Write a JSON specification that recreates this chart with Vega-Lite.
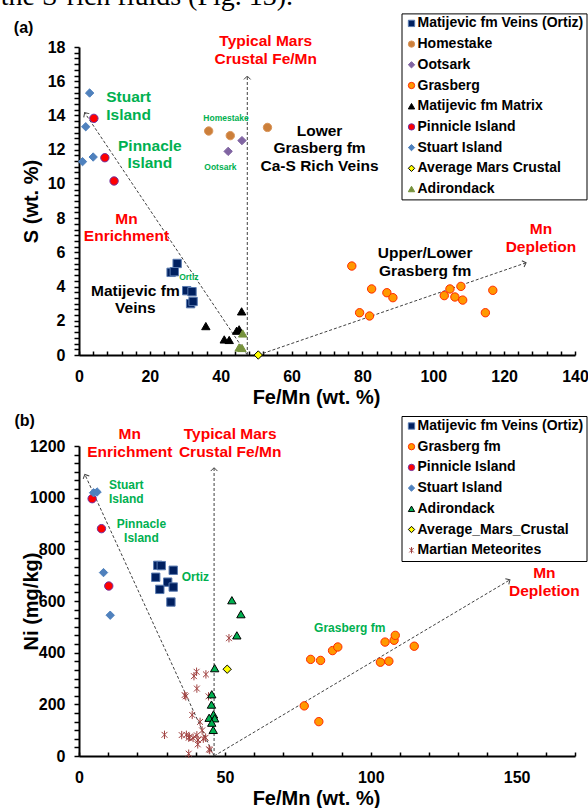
{
  "$schema": "https://vega.github.io/schema/vega-lite/v6.json",
  "padding": {"left": 0, "top": -17, "right": 0, "bottom": 5},
  "background": "white",
  "bounds": "flush",
  "spacing": 91,
  "config": {
    "view": {"stroke": null},
    "font": "Liberation Sans",
    "axis": {
      "grid": false, "domainColor": "black", "domainWidth": 2, "tickColor": "black", "tickWidth": 1.5,
      "labelFont": "Liberation Sans", "labelFontWeight": "bold", "labelColor": "black", "labelFontSize": 16,
      "titleFont": "Liberation Sans", "titleFontWeight": "bold", "titleColor": "black", "titleFontSize": 20,
      "labelOverlap": false, "labelFlush": false
    }
  },
  "resolve": {
    "scale": {"x": "independent", "y": "independent", "fill": "independent", "stroke": "independent", "shape": "independent"},
    "legend": {"fill": "independent", "stroke": "independent", "shape": "independent"}
  },
  "vconcat": [
    {
      "width": 496,
      "height": 308,
      "encoding": {
        "x": {"field": "x", "type": "quantitative", "scale": {"domain": [0, 140], "nice": false, "zero": false},
          "axis": {"title": "Fe/Mn (wt. %)", "values": [0,4,8,12,16,20,24,28,32,36,40,44,48,52,56,60,64,68,72,76,80,84,88,92,96,100,104,108,112,116,120,124,128,132,136,140],
            "labelExpr": "datum.value % 20 === 0 ? format(datum.value, 'd') : ''", "tickSize": -4, "labelPadding": 17,
            "titleX": 237, "titleY": 42, "titleBaseline": "middle", "titleAlign": "center"}},
        "y": {"field": "y", "type": "quantitative", "scale": {"domain": [0, 18], "nice": false, "zero": false},
          "axis": {"title": "S (wt. %)", "values": [0,0.333,0.667,1,1.333,1.667,2,2.333,2.667,3,3.333,3.667,4,4.333,4.667,5,5.333,5.667,6,6.333,6.667,7,7.333,7.667,8,8.333,8.667,9,9.333,9.667,10,10.333,10.667,11,11.333,11.667,12,12.333,12.667,13,13.333,13.667,14,14.333,14.667,15,15.333,15.667,16,16.333,16.667,17,17.333,17.667,18],
            "labelExpr": "datum.value % 2 === 0 ? format(datum.value, 'd') : ''", "tickSize": 5, "labelPadding": 9,
            "titleX": -48, "titleY": 154, "titleBaseline": "middle", "titleAlign": "center", "titleAngle": -90}}
      },
      "layer": [
        {
          "data": {"values": [
            {"x": 47.5, "y": 0, "x2": 1.6, "y2": 14.16},
            {"x": 47.5, "y": 0, "x2": 47.5, "y2": 16.3},
            {"x": 50.6, "y": 0, "x2": 126.2, "y2": 5.39}
          ]},
          "mark": {"type": "rule", "color": "#404040", "strokeWidth": 1, "strokeDash": [3, 2]},
          "encoding": {"x2": {"field": "x2"}, "y2": {"field": "y2"}}
        },
        {
          "data": {"values": [{"x": 1.6, "y": 14.16}]},
          "mark": {"type": "point", "shape": "M-1,1L0,0L1,1", "angle": -33.8, "size": 45, "filled": false, "stroke": "#404040", "strokeWidth": 1, "opacity": 1}
        },
        {
          "data": {"values": [{"x": 47.5, "y": 16.3}]},
          "mark": {"type": "point", "shape": "M-1,1L0,0L1,1", "angle": 0, "size": 45, "filled": false, "stroke": "#404040", "strokeWidth": 1, "opacity": 1}
        },
        {
          "data": {"values": [{"x": 126.2, "y": 5.39}]},
          "mark": {"type": "point", "shape": "M-1,1L0,0L1,1", "angle": 71, "size": 45, "filled": false, "stroke": "#404040", "strokeWidth": 1, "opacity": 1}
        },
        {
          "data": {"values": [
            {"series": "Matijevic fm Veins (Ortiz)", "x": 27.7, "y": 5.35},
            {"series": "Matijevic fm Veins (Ortiz)", "x": 26.0, "y": 4.83},
            {"series": "Matijevic fm Veins (Ortiz)", "x": 26.9, "y": 4.87},
            {"series": "Matijevic fm Veins (Ortiz)", "x": 30.4, "y": 3.76},
            {"series": "Matijevic fm Veins (Ortiz)", "x": 31.9, "y": 3.70},
            {"series": "Matijevic fm Veins (Ortiz)", "x": 31.5, "y": 3.00},
            {"series": "Matijevic fm Veins (Ortiz)", "x": 32.2, "y": 3.13},
            {"series": "Homestake", "x": 36.6, "y": 13.09},
            {"series": "Homestake", "x": 42.7, "y": 12.82},
            {"series": "Homestake", "x": 53.2, "y": 13.30},
            {"series": "Ootsark", "x": 42.1, "y": 11.90},
            {"series": "Ootsark", "x": 46.0, "y": 12.53},
            {"series": "Grasberg", "x": 77.0, "y": 5.20},
            {"series": "Grasberg", "x": 79.2, "y": 2.47},
            {"series": "Grasberg", "x": 82.0, "y": 2.28},
            {"series": "Grasberg", "x": 82.6, "y": 3.86},
            {"series": "Grasberg", "x": 86.9, "y": 3.64},
            {"series": "Grasberg", "x": 88.6, "y": 3.35},
            {"series": "Grasberg", "x": 103.1, "y": 3.47},
            {"series": "Grasberg", "x": 104.7, "y": 3.86},
            {"series": "Grasberg", "x": 106.1, "y": 3.39},
            {"series": "Grasberg", "x": 107.8, "y": 4.01},
            {"series": "Grasberg", "x": 108.3, "y": 3.21},
            {"series": "Grasberg", "x": 114.7, "y": 2.47},
            {"series": "Grasberg", "x": 116.8, "y": 3.78},
            {"series": "Matijevic fm Matrix", "x": 35.8, "y": 1.69},
            {"series": "Matijevic fm Matrix", "x": 41.0, "y": 0.91},
            {"series": "Matijevic fm Matrix", "x": 42.4, "y": 0.88},
            {"series": "Matijevic fm Matrix", "x": 44.5, "y": 1.42},
            {"series": "Matijevic fm Matrix", "x": 45.2, "y": 1.50},
            {"series": "Matijevic fm Matrix", "x": 45.9, "y": 2.55},
            {"series": "Pinnicle Island", "x": 4.2, "y": 13.83},
            {"series": "Pinnicle Island", "x": 7.3, "y": 11.53},
            {"series": "Pinnicle Island", "x": 9.9, "y": 10.17},
            {"series": "Stuart Island", "x": 3.0, "y": 15.31},
            {"series": "Stuart Island", "x": 1.9, "y": 13.34},
            {"series": "Stuart Island", "x": 1.0, "y": 11.30},
            {"series": "Stuart Island", "x": 4.0, "y": 11.57},
            {"series": "Adirondack", "x": 46.2, "y": 1.26},
            {"series": "Adirondack", "x": 45.2, "y": 0.44},
            {"series": "Adirondack", "x": 46.0, "y": 0.41},
            {"series": "Average Mars Crustal", "x": 50.6, "y": 0}
          ]},
          "mark": {"type": "point", "filled": true, "size": 70, "strokeWidth": 1, "opacity": 1},
          "encoding": {
            "fill": {"field": "series", "type": "nominal",
              "scale": {"domain": ["Matijevic fm Veins (Ortiz)", "Homestake", "Ootsark", "Grasberg", "Matijevic fm Matrix", "Pinnicle Island", "Stuart Island", "Average Mars Crustal", "Adirondack"],
                "range": ["#002060", "#cc7f3a", "#8064a2", "#ff9900", "#000000", "#ff0000", "#4f81bd", "#ffff00", "#76923c"]},
              "legend": {"title": null, "orient": "none", "legendX": 322.5, "legendY": -33.6, "fillColor": "white", "strokeColor": "black",
                "padding": 3, "rowPadding": 6.7, "labelFont": "Liberation Sans", "labelFontWeight": "bold", "labelFontSize": 14, "labelLimit": 300,
                "symbolSize": 40, "symbolStrokeWidth": 1, "labelOffset": -1,
                "encode": {"labels": {"update": {"fill": {"signal": "datum.value === 'Average Mars Crustal' || datum.value === 'Adirondack' ? '#000000' : '#00b050'"}}},
                  "legend": {"update": {"strokeWidth": {"value": 2}}}}}},
            "stroke": {"field": "series", "type": "nominal",
              "scale": {"domain": ["Matijevic fm Veins (Ortiz)", "Homestake", "Ootsark", "Grasberg", "Matijevic fm Matrix", "Pinnicle Island", "Stuart Island", "Average Mars Crustal", "Adirondack"],
                "range": ["#5a7bb0", "#d9955a", "#8064a2", "#ff2a00", "#000000", "#7030a0", "#4f81bd", "#000000", "#76923c"]}},
            "shape": {"field": "series", "type": "nominal",
              "scale": {"domain": ["Matijevic fm Veins (Ortiz)", "Homestake", "Ootsark", "Grasberg", "Matijevic fm Matrix", "Pinnicle Island", "Stuart Island", "Average Mars Crustal", "Adirondack"],
                "range": ["square", "circle", "diamond", "circle", "triangle-up", "circle", "diamond", "diamond", "triangle-up"]}}
          }
        },
        {
          "data": {"values": [
            {"x": 13.4, "y": 7.95, "label": "Mn\nEnrichment"},
            {"x": 130.4, "y": 7.36, "label": "Mn\nDepletion"},
            {"x": 52.7, "y": 18.33, "label": "Typical Mars\nCrustal Fe/Mn"}
          ]},
          "mark": {"type": "text", "font": "Liberation Sans", "fontSize": 15.5, "fontWeight": "bold", "color": "#ff0000", "lineBreak": "\n", "lineHeight": 17.5, "align": "center", "baseline": "middle"},
          "encoding": {"text": {"field": "label"}}
        },
        {
          "data": {"values": [
            {"x": 14.0, "y": 15.06, "label": "Stuart\nIsland"},
            {"x": 20.0, "y": 12.23, "label": "Pinnacle\nIsland"}
          ]},
          "mark": {"type": "text", "font": "Liberation Sans", "fontSize": 15.5, "fontWeight": "bold", "color": "#00b050", "lineBreak": "\n", "lineHeight": 17.5, "align": "center", "baseline": "middle"},
          "encoding": {"text": {"field": "label"}}
        },
        {
          "data": {"values": [
            {"x": 15.9, "y": 3.76, "label": "Matijevic fm\nVeins"},
            {"x": 67.9, "y": 13.11, "label": "Lower\nGrasberg fm\nCa-S Rich Veins"},
            {"x": 97.7, "y": 5.96, "label": "Upper/Lower\nGrasberg fm"}
          ]},
          "mark": {"type": "text", "font": "Liberation Sans", "fontSize": 15.5, "fontWeight": "bold", "color": "#000000", "lineBreak": "\n", "lineHeight": 17.5, "align": "center", "baseline": "middle"},
          "encoding": {"text": {"field": "label"}}
        },
        {
          "data": {"values": [
            {"x": 41.5, "y": 13.85, "label": "Homestake"},
            {"x": 39.9, "y": 11.0, "label": "Ootsark"},
            {"x": 31.0, "y": 4.58, "label": "Ortiz"}
          ]},
          "mark": {"type": "text", "font": "Liberation Sans", "fontSize": 8.5, "fontWeight": "bold", "color": "#00b050", "align": "center", "baseline": "middle"},
          "encoding": {"text": {"field": "label"}}
        },
        {
          "data": {"values": [{"x": -18.4, "y": 19.1, "label": "(a)"}]},
          "mark": {"type": "text", "font": "Liberation Sans", "fontSize": 16, "fontWeight": "bold", "color": "#000000", "align": "left", "baseline": "middle"},
          "encoding": {"text": {"field": "label"}}
        },
        {
          "data": {"values": [{"x": -22.1, "y": 20.44, "label": "the S-rich fluids (Fig. 13)."}]},
          "mark": {"type": "text", "font": "Liberation Serif", "fontSize": 28, "color": "#000000", "align": "left", "baseline": "alphabetic"},
          "encoding": {"text": {"field": "label"}}
        }
      ]
    },
    {
      "width": 496,
      "height": 310,
      "encoding": {
        "x": {"field": "x", "type": "quantitative", "scale": {"domain": [0, 170], "nice": false, "zero": false},
          "axis": {"title": "Fe/Mn (wt. %)", "values": [0,10,20,30,40,50,60,70,80,90,100,110,120,130,140,150,160,170],
            "labelExpr": "datum.value % 50 === 0 ? format(datum.value, 'd') : ''", "tickSize": -4, "labelPadding": 17,
            "titleX": 237, "titleY": 42, "titleBaseline": "middle", "titleAlign": "center"}},
        "y": {"field": "y", "type": "quantitative", "scale": {"domain": [0, 1200], "nice": false, "zero": false},
          "axis": {"title": "Ni (mg/kg)", "values": [0,33.33,66.67,100,133.33,166.67,200,233.33,266.67,300,333.33,366.67,400,433.33,466.67,500,533.33,566.67,600,633.33,666.67,700,733.33,766.67,800,833.33,866.67,900,933.33,966.67,1000,1033.33,1066.67,1100,1133.33,1166.67,1200],
            "labelExpr": "datum.value % 200 === 0 ? format(datum.value, 'd') : ''", "tickSize": 5, "labelPadding": 9,
            "titleX": -48, "titleY": 155, "titleBaseline": "middle", "titleAlign": "center", "titleAngle": -90}}
      },
      "layer": [
        {
          "data": {"values": [
            {"x": 46.3, "y": 0, "x2": 2.0, "y2": 1090},
            {"x": 46.3, "y": 0, "x2": 46.3, "y2": 1116},
            {"x": 46.3, "y": 0, "x2": 147.7, "y2": 682}
          ]},
          "mark": {"type": "rule", "color": "#404040", "strokeWidth": 1, "strokeDash": [3, 2]},
          "encoding": {"x2": {"field": "x2"}, "y2": {"field": "y2"}}
        },
        {
          "data": {"values": [{"x": 2.0, "y": 1090}]},
          "mark": {"type": "point", "shape": "M-1,1L0,0L1,1", "angle": -24.6, "size": 45, "filled": false, "stroke": "#404040", "strokeWidth": 1, "opacity": 1}
        },
        {
          "data": {"values": [{"x": 46.3, "y": 1116}]},
          "mark": {"type": "point", "shape": "M-1,1L0,0L1,1", "angle": 0, "size": 45, "filled": false, "stroke": "#404040", "strokeWidth": 1, "opacity": 1}
        },
        {
          "data": {"values": [{"x": 147.7, "y": 682}]},
          "mark": {"type": "point", "shape": "M-1,1L0,0L1,1", "angle": 59.2, "size": 45, "filled": false, "stroke": "#404040", "strokeWidth": 1, "opacity": 1}
        },
        {
          "data": {"values": [
            {"series": "Martian Meteorites", "x": 51.4, "y": 456},
            {"series": "Martian Meteorites", "x": 40.3, "y": 326},
            {"series": "Martian Meteorites", "x": 39.4, "y": 309},
            {"series": "Martian Meteorites", "x": 43.5, "y": 316},
            {"series": "Martian Meteorites", "x": 40.4, "y": 261},
            {"series": "Martian Meteorites", "x": 36.2, "y": 236},
            {"series": "Martian Meteorites", "x": 36.6, "y": 231},
            {"series": "Martian Meteorites", "x": 44.4, "y": 231},
            {"series": "Martian Meteorites", "x": 38.8, "y": 159},
            {"series": "Martian Meteorites", "x": 41.5, "y": 132},
            {"series": "Martian Meteorites", "x": 42.2, "y": 99},
            {"series": "Martian Meteorites", "x": 29.3, "y": 82},
            {"series": "Martian Meteorites", "x": 35.2, "y": 81},
            {"series": "Martian Meteorites", "x": 36.8, "y": 82},
            {"series": "Martian Meteorites", "x": 37.6, "y": 71},
            {"series": "Martian Meteorites", "x": 37.9, "y": 74},
            {"series": "Martian Meteorites", "x": 39.1, "y": 70},
            {"series": "Martian Meteorites", "x": 40.4, "y": 80},
            {"series": "Martian Meteorites", "x": 40.8, "y": 62},
            {"series": "Martian Meteorites", "x": 43.4, "y": 71},
            {"series": "Martian Meteorites", "x": 44.6, "y": 26},
            {"series": "Martian Meteorites", "x": 37.6, "y": 9},
            {"series": "Martian Meteorites", "x": 44.8, "y": 23},
            {"series": "Martian Meteorites", "x": 40.7, "y": 45},
            {"series": "Martian Meteorites", "x": 42.6, "y": 67},
            {"series": "Matijevic fm Veins (Ortiz)", "x": 27.0, "y": 738},
            {"series": "Matijevic fm Veins (Ortiz)", "x": 28.2, "y": 737},
            {"series": "Matijevic fm Veins (Ortiz)", "x": 32.3, "y": 719},
            {"series": "Matijevic fm Veins (Ortiz)", "x": 26.3, "y": 692},
            {"series": "Matijevic fm Veins (Ortiz)", "x": 30.4, "y": 673},
            {"series": "Matijevic fm Veins (Ortiz)", "x": 32.3, "y": 654},
            {"series": "Matijevic fm Veins (Ortiz)", "x": 27.7, "y": 645},
            {"series": "Matijevic fm Veins (Ortiz)", "x": 31.5, "y": 596},
            {"series": "Grasberg fm", "x": 79.4, "y": 374},
            {"series": "Grasberg fm", "x": 82.8, "y": 370},
            {"series": "Grasberg fm", "x": 86.9, "y": 408},
            {"series": "Grasberg fm", "x": 88.7, "y": 422},
            {"series": "Grasberg fm", "x": 77.2, "y": 194},
            {"series": "Grasberg fm", "x": 82.2, "y": 133},
            {"series": "Grasberg fm", "x": 103.3, "y": 363},
            {"series": "Grasberg fm", "x": 106.2, "y": 367},
            {"series": "Grasberg fm", "x": 104.9, "y": 441},
            {"series": "Grasberg fm", "x": 108.0, "y": 448},
            {"series": "Grasberg fm", "x": 108.4, "y": 467},
            {"series": "Grasberg fm", "x": 114.9, "y": 425},
            {"series": "Pinnicle Island", "x": 4.5, "y": 996},
            {"series": "Pinnicle Island", "x": 7.7, "y": 880},
            {"series": "Pinnicle Island", "x": 10.2, "y": 658},
            {"series": "Stuart Island", "x": 5.0, "y": 1019},
            {"series": "Stuart Island", "x": 6.2, "y": 1022},
            {"series": "Stuart Island", "x": 8.4, "y": 710},
            {"series": "Stuart Island", "x": 10.7, "y": 545},
            {"series": "Adirondack", "x": 52.4, "y": 603},
            {"series": "Adirondack", "x": 55.5, "y": 549},
            {"series": "Adirondack", "x": 54.1, "y": 467},
            {"series": "Adirondack", "x": 46.5, "y": 340},
            {"series": "Adirondack", "x": 45.5, "y": 239},
            {"series": "Adirondack", "x": 45.4, "y": 199},
            {"series": "Adirondack", "x": 46.1, "y": 161},
            {"series": "Adirondack", "x": 44.6, "y": 148},
            {"series": "Adirondack", "x": 46.5, "y": 146},
            {"series": "Adirondack", "x": 45.5, "y": 129},
            {"series": "Adirondack", "x": 46.0, "y": 101},
            {"series": "Average_Mars_Crustal", "x": 50.8, "y": 336}
          ]},
          "mark": {"type": "point", "filled": true, "size": 70, "strokeWidth": 1, "opacity": 1},
          "encoding": {
            "fill": {"field": "series", "type": "nominal",
              "scale": {"domain": ["Matijevic fm Veins (Ortiz)", "Grasberg fm", "Pinnicle Island", "Stuart Island", "Adirondack", "Average_Mars_Crustal", "Martian Meteorites"],
                "range": ["#002060", "#ff9900", "#ff0000", "#4f81bd", "#00b050", "#ffff00", "#a0403f"]},
              "legend": {"title": null, "orient": "none", "legendX": 322.5, "legendY": -30, "fillColor": "white", "strokeColor": "black",
                "padding": 3, "rowPadding": 6.7, "labelFont": "Liberation Sans", "labelFontWeight": "bold", "labelFontSize": 14, "labelLimit": 300,
                "symbolSize": 40, "symbolStrokeWidth": 1, "labelOffset": -1,
                "encode": {"labels": {"update": {"fill": {"signal": "datum.value === 'Average_Mars_Crustal' || datum.value === 'Adirondack' || datum.value === 'Martian Meteorites' ? '#000000' : '#00b050'"}}},
                  "legend": {"update": {"strokeWidth": {"value": 2}}}}}},
            "stroke": {"field": "series", "type": "nominal",
              "scale": {"domain": ["Matijevic fm Veins (Ortiz)", "Grasberg fm", "Pinnicle Island", "Stuart Island", "Adirondack", "Average_Mars_Crustal", "Martian Meteorites"],
                "range": ["#5a7bb0", "#ff2a00", "#7030a0", "#4f81bd", "#000000", "#000000", "#a0403f"]}},
            "shape": {"field": "series", "type": "nominal",
              "scale": {"domain": ["Matijevic fm Veins (Ortiz)", "Grasberg fm", "Pinnicle Island", "Stuart Island", "Adirondack", "Average_Mars_Crustal", "Martian Meteorites"],
                "range": ["square", "circle", "circle", "diamond", "triangle-up", "diamond", "M-0.7,-0.7L0.7,0.7M-0.7,0.7L0.7,-0.7M0,-1L0,1"]}}
          }
        },
        {
          "data": {"values": [
            {"x": 17.4, "y": 1248, "label": "Mn\nEnrichment"},
            {"x": 51.8, "y": 1245, "label": "Typical Mars\nCrustal Fe/Mn"},
            {"x": 159.5, "y": 710, "label": "Mn\nDepletion"}
          ]},
          "mark": {"type": "text", "font": "Liberation Sans", "fontSize": 15.5, "fontWeight": "bold", "color": "#ff0000", "lineBreak": "\n", "lineHeight": 18, "align": "center", "baseline": "middle"},
          "encoding": {"text": {"field": "label"}}
        },
        {
          "data": {"values": [
            {"x": 16.2, "y": 1048, "label": "Stuart\nIsland"},
            {"x": 21.4, "y": 899, "label": "Pinnacle\nIsland"},
            {"x": 39.9, "y": 694, "label": "Ortiz"},
            {"x": 92.8, "y": 497, "label": "Grasberg fm"}
          ]},
          "mark": {"type": "text", "font": "Liberation Sans", "fontSize": 12, "fontWeight": "bold", "color": "#00b050", "lineBreak": "\n", "lineHeight": 14, "align": "center", "baseline": "middle"},
          "encoding": {"text": {"field": "label"}}
        },
        {
          "data": {"values": [{"x": -22.1, "y": 1297, "label": "(b)"}]},
          "mark": {"type": "text", "font": "Liberation Sans", "fontSize": 16, "fontWeight": "bold", "color": "#000000", "align": "left", "baseline": "middle"},
          "encoding": {"text": {"field": "label"}}
        }
      ]
    }
  ]
}
